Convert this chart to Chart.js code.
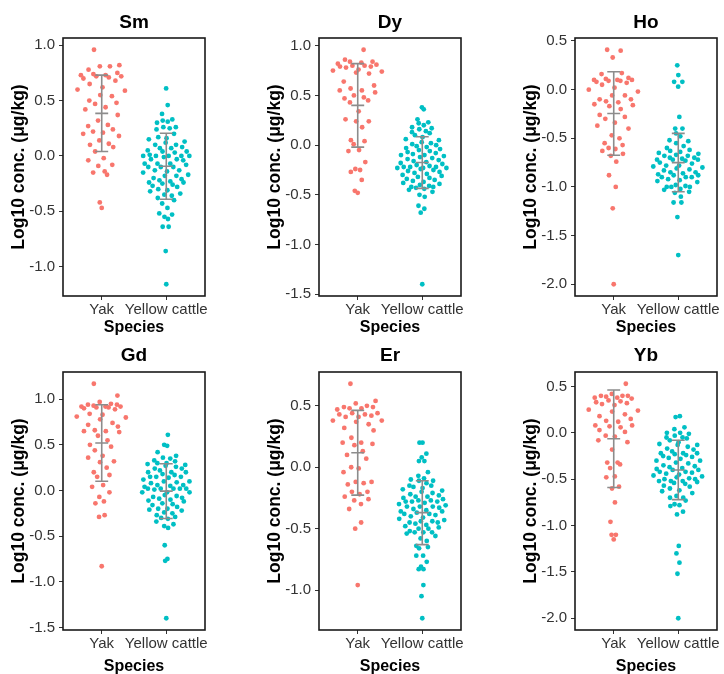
<!DOCTYPE html>
<html>
<head>
<meta charset="utf-8">
<script src="https://cdn.jsdelivr.net/npm/chart.js@4.4.1/dist/chart.umd.min.js"></script>
<style>
  html, body { margin: 0; padding: 0; background: #fff; overflow: hidden; }
  #wrap { position: relative; width: 724px; height: 674px; }
  #wrap canvas { position: absolute; }
</style>
</head>
<body>
<div id="wrap"></div>
<script>
const elements = ['Sm', 'Dy', 'Ho', 'Gd', 'Er', 'Yb'];
const species = ['Yak', 'Yellow cattle'];

// log10 concentrations
const smYak = [0.96, 0.82, 0.81, 0.78, 0.81, 0.75, 0.71, 0.72, 0.73, 0.70, 0.74, 0.72, 0.68, 0.73, 0.65, 0.60, 0.59, 0.62, 0.55, 0.54, 0.48, 0.50, 0.47, 0.42, 0.44, 0.37, 0.32, 0.27, 0.28, 0.24, 0.22, 0.20, 0.21, 0.18, 0.14, 0.10, 0.11, 0.08, 0.04, -0.04, -0.02, -0.08, -0.09, -0.15, -0.14, -0.17, -0.42, -0.47];
const smCattle = [0.61, 0.46, 0.38, 0.33, 0.32, 0.31, 0.30, 0.26, 0.26, 0.25, 0.24, 0.20, 0.17, 0.16, 0.15, 0.13, 0.12, 0.10, 0.10, 0.08, 0.07, 0.07, 0.05, 0.04, 0.04, 0.03, 0.01, 0.00, 0.00, 0.00, 0.00, 0.00, -0.01, -0.03, -0.03, -0.04, -0.07, -0.07, -0.07, -0.08, -0.10, -0.10, -0.10, -0.13, -0.13, -0.14, -0.15, -0.17, -0.18, -0.18, -0.20, -0.21, -0.22, -0.24, -0.23, -0.25, -0.24, -0.26, -0.27, -0.28, -0.30, -0.31, -0.32, -0.34, -0.35, -0.36, -0.38, -0.40, -0.43, -0.47, -0.52, -0.53, -0.55, -0.57, -0.64, -0.64, -0.86, -1.16];
const dyYak = [0.96, 0.86, 0.84, 0.84, 0.82, 0.83, 0.81, 0.80, 0.79, 0.80, 0.79, 0.78, 0.76, 0.74, 0.73, 0.75, 0.72, 0.64, 0.60, 0.57, 0.55, 0.55, 0.53, 0.50, 0.47, 0.48, 0.45, 0.43, 0.34, 0.26, 0.24, 0.24, 0.18, 0.05, 0.04, 0.01, -0.05, -0.06, -0.17, -0.25, -0.24, -0.27, -0.35, -0.46, -0.48];
const dyCattle = [0.38, 0.36, 0.26, 0.23, 0.22, 0.20, 0.18, 0.16, 0.17, 0.14, 0.13, 0.12, 0.10, 0.08, 0.06, 0.05, 0.03, 0.02, 0.01, -0.01, 0.00, -0.02, -0.03, -0.04, -0.05, -0.06, -0.07, -0.08, -0.09, -0.10, -0.10, -0.11, -0.12, -0.13, -0.14, -0.15, -0.16, -0.17, -0.18, -0.19, -0.20, -0.21, -0.22, -0.22, -0.23, -0.23, -0.23, -0.24, -0.22, -0.25, -0.26, -0.27, -0.28, -0.29, -0.30, -0.31, -0.32, -0.33, -0.34, -0.35, -0.36, -0.37, -0.38, -0.39, -0.40, -0.41, -0.42, -0.42, -0.43, -0.44, -0.45, -0.47, -0.50, -0.52, -0.61, -0.64, -0.68, -1.40];
const hoYak = [0.41, 0.40, 0.33, 0.16, 0.17, 0.12, 0.10, 0.10, 0.11, 0.09, 0.09, 0.10, 0.08, 0.07, 0.05, 0.02, 0.00, -0.02, -0.06, -0.06, -0.10, -0.10, -0.12, -0.13, -0.15, -0.17, -0.16, -0.20, -0.26, -0.28, -0.30, -0.34, -0.40, -0.37, -0.47, -0.50, -0.55, -0.57, -0.60, -0.61, -0.63, -0.66, -0.68, -0.74, -0.88, -1.00, -1.22, -2.00];
const hoCattle = [0.25, 0.15, 0.08, 0.08, 0.03, -0.28, -0.40, -0.40, -0.45, -0.48, -0.52, -0.53, -0.55, -0.58, -0.60, -0.62, -0.63, -0.64, -0.65, -0.66, -0.67, -0.68, -0.70, -0.70, -0.68, -0.71, -0.72, -0.72, -0.72, -0.73, -0.75, -0.76, -0.78, -0.78, -0.79, -0.80, -0.81, -0.82, -0.83, -0.85, -0.85, -0.86, -0.87, -0.88, -0.88, -0.90, -0.90, -0.90, -0.92, -0.93, -0.94, -0.95, -0.98, -0.99, -1.00, -1.00, -1.00, -1.02, -1.03, -1.05, -1.06, -1.10, -1.16, -1.16, -1.31, -1.70];
const gdYak = [1.17, 1.04, 0.97, 0.95, 0.94, 0.94, 0.93, 0.92, 0.92, 0.91, 0.91, 0.90, 0.89, 0.92, 0.84, 0.83, 0.81, 0.80, 0.78, 0.74, 0.72, 0.70, 0.65, 0.64, 0.66, 0.65, 0.60, 0.55, 0.50, 0.48, 0.44, 0.38, 0.36, 0.32, 0.31, 0.25, 0.20, 0.17, 0.15, 0.06, 0.04, -0.02, -0.07, -0.12, -0.14, -0.27, -0.29, -0.83];
const gdCattle = [0.61, 0.50, 0.49, 0.42, 0.38, 0.36, 0.35, 0.33, 0.32, 0.30, 0.30, 0.29, 0.28, 0.27, 0.26, 0.24, 0.24, 0.22, 0.20, 0.20, 0.20, 0.18, 0.17, 0.15, 0.15, 0.15, 0.14, 0.12, 0.10, 0.10, 0.09, 0.08, 0.06, 0.06, 0.05, 0.04, 0.02, 0.02, 0.02, 0.02, 0.02, 0.01, -0.02, -0.02, -0.02, -0.05, -0.06, -0.07, -0.08, -0.09, -0.10, -0.11, -0.12, -0.14, -0.15, -0.16, -0.18, -0.20, -0.20, -0.21, -0.22, -0.24, -0.25, -0.27, -0.29, -0.31, -0.30, -0.34, -0.37, -0.39, -0.41, -0.60, -0.75, -0.77, -1.40];
const erYak = [0.68, 0.54, 0.52, 0.49, 0.49, 0.50, 0.48, 0.47, 0.48, 0.44, 0.44, 0.43, 0.43, 0.42, 0.41, 0.41, 0.37, 0.38, 0.38, 0.35, 0.32, 0.30, 0.24, 0.20, 0.20, 0.19, 0.18, 0.13, 0.10, 0.07, 0.00, -0.01, -0.04, -0.12, -0.13, -0.14, -0.12, -0.20, -0.20, -0.22, -0.24, -0.26, -0.27, -0.30, -0.34, -0.45, -0.50, -0.96];
const erCattle = [0.20, 0.20, 0.11, 0.08, 0.05, 0.05, -0.04, -0.07, -0.09, -0.10, -0.11, -0.11, -0.13, -0.15, -0.15, -0.16, -0.17, -0.18, -0.19, -0.20, -0.21, -0.22, -0.23, -0.24, -0.24, -0.25, -0.26, -0.27, -0.28, -0.28, -0.28, -0.27, -0.29, -0.30, -0.31, -0.32, -0.32, -0.32, -0.33, -0.34, -0.35, -0.36, -0.36, -0.37, -0.38, -0.39, -0.38, -0.40, -0.41, -0.42, -0.43, -0.44, -0.44, -0.45, -0.46, -0.45, -0.47, -0.48, -0.49, -0.50, -0.50, -0.52, -0.53, -0.53, -0.53, -0.54, -0.56, -0.58, -0.60, -0.64, -0.65, -0.66, -0.72, -0.72, -0.77, -0.81, -0.83, -0.83, -0.96, -1.05, -1.23];
const ybYak = [0.53, 0.42, 0.40, 0.40, 0.40, 0.39, 0.38, 0.38, 0.37, 0.35, 0.34, 0.33, 0.32, 0.31, 0.30, 0.25, 0.24, 0.23, 0.20, 0.18, 0.15, 0.13, 0.12, 0.08, 0.08, 0.07, 0.06, 0.03, 0.01, -0.03, -0.04, -0.08, -0.10, -0.18, -0.32, -0.32, -0.34, -0.38, -0.47, -0.48, -0.58, -0.60, -0.75, -0.96, -1.10, -1.10, -1.15];
const ybCattle = [0.18, 0.17, 0.06, 0.04, 0.00, 0.00, -0.01, -0.03, -0.05, -0.05, -0.06, -0.08, -0.10, -0.12, -0.13, -0.13, -0.15, -0.17, -0.18, -0.20, -0.22, -0.22, -0.22, -0.24, -0.23, -0.25, -0.26, -0.27, -0.28, -0.30, -0.30, -0.32, -0.33, -0.35, -0.36, -0.37, -0.38, -0.39, -0.40, -0.40, -0.42, -0.42, -0.43, -0.44, -0.45, -0.46, -0.47, -0.48, -0.49, -0.50, -0.50, -0.52, -0.52, -0.53, -0.52, -0.54, -0.55, -0.57, -0.58, -0.60, -0.62, -0.63, -0.65, -0.68, -0.70, -0.70, -0.73, -0.77, -0.78, -0.79, -0.85, -0.88, -1.22, -1.30, -1.40, -1.52, -2.00];

const yakValues = [smYak, dyYak, hoYak, gdYak, erYak, ybYak];
const cattleValues = [smCattle, dyCattle, hoCattle, gdCattle, erCattle, ybCattle];

// mean and SD shown by the grey error bars
const yakMean = [0.385, 0.40, -0.246, 0.52, 0.118, -0.064];
const yakSd = [0.345, 0.42, 0.429, 0.419, 0.345, 0.526];
const cattleMean = [-0.093, -0.175, -0.75, -0.007, -0.37, -0.40];
const cattleSd = [0.298, 0.26, 0.30, 0.30, 0.26, 0.32];

// panel geometry
const colLeft = [0, 240, 480], colWidth = [240, 240, 244], boxLeft = [63, 79, 95];
const rowTop = [0, 335], rowHeight = [335, 339], boxTop = [38, 37], boxBottom = [296, 295];
const boxWidth = 142;
const spreadWidth = 0.4;
const fontFamily = "'Liberation Sans', Arial, sans-serif";

// quasirandom spread: offset scaled by the group's kernel density at each value
function vanDerCorput(k) {
    let out = 0, f = 0.5;
    while (k > 0) {
        out += (k % 2) * f;
        k = Math.floor(k / 2);
        f /= 2;
    }
    return out;
}

function quantile(sorted, p) {
    const h = (sorted.length - 1) * p;
    const lo = Math.floor(h);
    return sorted[lo] + (h - lo) * ((sorted[lo + 1] ?? sorted[lo]) - sorted[lo]);
}

function quasiOffsets(vals) {
    const n = vals.length;
    const sorted = vals.slice().sort((a, b) => a - b);
    const mean = vals.reduce((a, b) => a + b, 0) / n;
    const sd = Math.sqrt(vals.reduce((a, b) => a + (b - mean) ** 2, 0) / (n - 1));
    const iqr = quantile(sorted, 0.75) - quantile(sorted, 0.25);
    const bw = 0.9 * Math.min(sd, iqr / 1.34) * Math.pow(n, -0.2);
    const dens = y => vals.reduce((a, v) => a + Math.exp(-0.5 * ((y - v) / bw) ** 2), 0);
    let maxD = 0;
    const gLo = sorted[0] - 3 * bw, gHi = sorted[n - 1] + 3 * bw;
    for (let k = 0; k < 512; k++) maxD = Math.max(maxD, dens(gLo + (gHi - gLo) * k / 511));
    const order = vals.map((v, i) => i).sort((a, b) => vals[a] - vals[b] || a - b);
    const offsets = new Array(n);
    order.forEach((idx, rank) => {
        offsets[idx] = (vanDerCorput(rank + 1) - 0.5) * 2 * spreadWidth * dens(vals[idx]) / maxD;
    });
    return offsets;
}

function errorBars(i) {
    const pts = [];
    const w = 0.1;
    [[yakMean[i], yakSd[i]], [cattleMean[i], cattleSd[i]]].forEach(([m, s], g) => {
        const x = g + 1;
        pts.push({ x, y: m - s }, { x, y: m + s }, { x, y: null });
        [m + s, m, m - s].forEach(v => {
            pts.push({ x: x - w, y: v }, { x: x + w, y: v }, { x, y: null });
        });
    });
    return pts;
}

const panelBorder = {
    id: 'panelBorder',
    afterDraw(chart) {
        const { ctx, chartArea } = chart;
        ctx.save();
        ctx.strokeStyle = '#1a1a1a';
        ctx.lineWidth = 1.6;
        ctx.strokeRect(chartArea.left, chartArea.top, chartArea.right - chartArea.left, chartArea.bottom - chartArea.top);
        ctx.restore();
    }
};

const wrap = document.getElementById('wrap');

for (let i = 0; i < elements.length; i++) {
    const c = i % 3;
    const r = Math.floor(i / 3);

    const canvas = document.createElement('canvas');
    canvas.width = colWidth[c];
    canvas.height = rowHeight[r];
    canvas.style.left = colLeft[c] + 'px';
    canvas.style.top = rowTop[r] + 'px';
    wrap.appendChild(canvas);

    const all = yakValues[i].concat(cattleValues[i]);
    const lo = Math.min(...all), hi = Math.max(...all);
    const yMin = lo - 0.05 * (hi - lo);
    const yMax = hi + 0.05 * (hi - lo);

    const yakOff = quasiOffsets(yakValues[i]);
    const cattleOff = quasiOffsets(cattleValues[i]);
    const yakPts = yakValues[i].map((v, k) => ({ x: 1 + yakOff[k], y: v }));
    const cattlePts = cattleValues[i].map((v, k) => ({ x: 2 + cattleOff[k], y: v }));

    const titlePadTop = (r === 0 ? 22.5 : 21) - 11.4;
    const titlePadBottom = boxTop[r] - 22.8 - titlePadTop;

    new Chart(canvas, {
        type: 'scatter',
        data: {
            datasets: [
                {
                    data: errorBars(i),
                    showLine: true,
                    spanGaps: false,
                    borderColor: '#8c8c8c',
                    borderWidth: 1.6,
                    pointRadius: 0
                },
                {
                    label: species[0],
                    data: yakPts,
                    backgroundColor: '#F8766D',
                    borderWidth: 0,
                    pointRadius: 2.4
                },
                {
                    label: species[1],
                    data: cattlePts,
                    backgroundColor: '#00BFC4',
                    borderWidth: 0,
                    pointRadius: 2.4
                }
            ]
        },
        options: {
            responsive: false,
            animation: false,
            events: [],
            layout: {
                padding: { left: 0, top: 0, bottom: 0, right: colWidth[c] - boxLeft[c] - boxWidth }
            },
            plugins: {
                legend: { display: false },
                tooltip: { enabled: false },
                title: {
                    display: true,
                    text: elements[i],
                    fullSize: false,
                    color: '#000',
                    font: { family: fontFamily, size: 19, weight: 'bold', lineHeight: 1.2 },
                    padding: { top: titlePadTop, bottom: titlePadBottom }
                }
            },
            scales: {
                x: {
                    type: 'linear',
                    min: 0.4,
                    max: 2.6,
                    afterBuildTicks: s => { s.ticks = [{ value: 1 }, { value: 2 }]; },
                    afterFit: s => {
                        s.height = rowHeight[r] - boxBottom[r];
                        s.paddingLeft = 0;
                        s.paddingRight = 0;
                    },
                    ticks: {
                        callback: v => species[v - 1],
                        autoSkip: false,
                        maxRotation: 0,
                        padding: 1,
                        color: '#333',
                        font: { family: fontFamily, size: 15, lineHeight: 1.2 }
                    },
                    grid: { display: true, drawOnChartArea: false, drawTicks: true, tickLength: 4, tickColor: '#333' },
                    border: { display: false },
                    title: {
                        display: true,
                        text: 'Species',
                        color: '#000',
                        font: { family: fontFamily, size: 16, weight: 'bold', lineHeight: 1 },
                        padding: { top: 0, bottom: -1 }
                    }
                },
                y: {
                    type: 'linear',
                    min: yMin,
                    max: yMax,
                    afterBuildTicks: s => {
                        const t = [];
                        for (let k = Math.ceil(s.min / 0.5 - 1e-9); k * 0.5 <= s.max + 1e-9; k++) t.push({ value: k * 0.5 });
                        s.ticks = t;
                    },
                    afterFit: s => {
                        s.width = boxLeft[c];
                        s.paddingTop = 0;
                        s.paddingBottom = 0;
                    },
                    ticks: {
                        callback: v => v.toFixed(1),
                        padding: 4,
                        color: '#333',
                        font: { family: fontFamily, size: 15 }
                    },
                    grid: { display: true, drawOnChartArea: false, drawTicks: true, tickLength: 4, tickColor: '#333' },
                    border: { display: false },
                    title: {
                        display: true,
                        text: 'Log10 conc. (μg/kg)',
                        color: '#000',
                        font: { family: fontFamily, size: 17.5, weight: 'bold', lineHeight: 1.2 },
                        padding: { top: boxLeft[c] - 44 - 10.5, bottom: 0 }
                    }
                }
            }
        },
        plugins: [panelBorder]
    });
}
</script>
</body>
</html>
